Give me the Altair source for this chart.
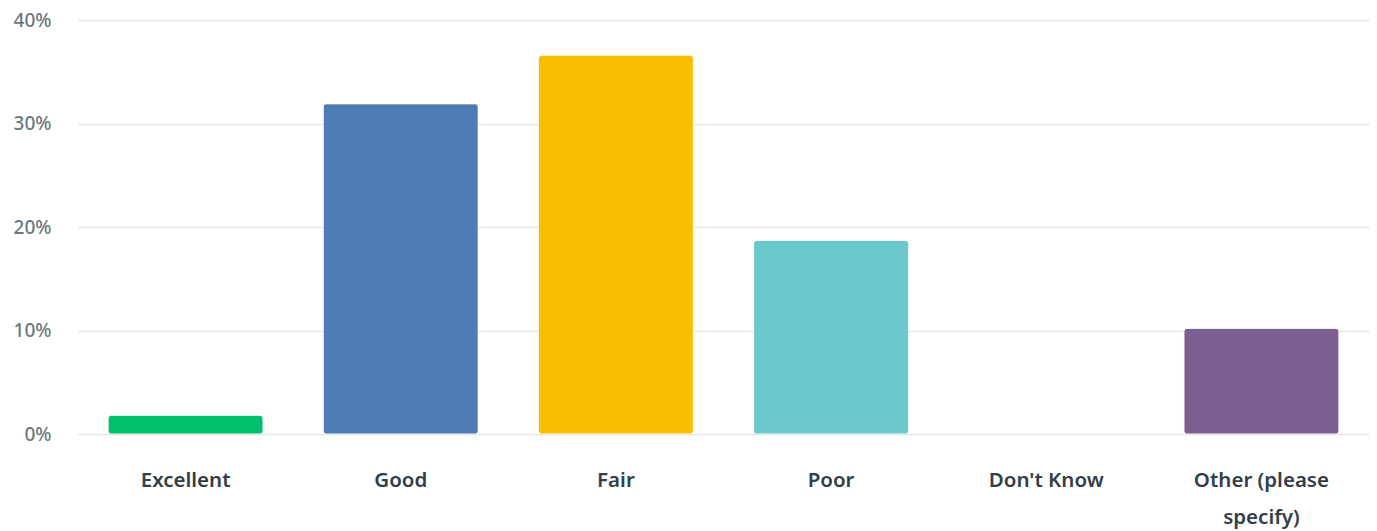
import altair as alt
import pandas as pd

categories = ["Excellent", "Good", "Fair", "Poor", "Don't Know", "Other (please specify)"]
values_pct = [1.8, 31.9, 36.6, 18.7, 0.0, 10.2]
colors = ["#00BF6F", "#507CB6", "#F9BE00", "#6BC8CD", "#A0A0A0", "#7D5E90"]
y_ticks = [0, 0.1, 0.2, 0.3, 0.4]

df = pd.DataFrame({
    "answer": categories,
    "share": [v / 100 for v in values_pct],
})

font = "Noto Sans"

chart = alt.Chart(df).mark_bar(
    cornerRadius=4, stroke="white"
).encode(
    x=alt.X(
        "answer:N",
        sort=categories,
        scale=alt.Scale(paddingInner=0.28, paddingOuter=0.14),
        axis=alt.Axis(
            title=None, labelAngle=0, domain=False, ticks=False,
            labelFont=font, labelFontSize=20.5, labelFontWeight=600,
            labelColor="#333E48", labelPadding=36, labelBaseline="top",
            labelLineHeight=37, labelLimit=300,
            labelExpr="datum.label == 'Other (please specify)' ? ['Other (please', 'specify)'] : datum.label",
        ),
    ),
    y=alt.Y(
        "share:Q",
        scale=alt.Scale(domain=[0, 0.4], nice=False),
        axis=alt.Axis(
            title=None, values=y_ticks, format=".0%", domain=False, ticks=False,
            labelFont=font, labelFontSize=19, labelColor="#6B787F", labelFontWeight=500,
            labelPadding=27, gridColor="#E5E5E5", gridWidth=1.5,
        ),
    ),
    strokeWidth=alt.condition("datum.share > 0", alt.value(1), alt.value(0)),
    color=alt.Color("answer:N", sort=categories,
                    scale=alt.Scale(domain=categories, range=colors), legend=None),
).properties(
    width=1291,
    height=414,
    autosize=alt.AutoSizeParams(type="none"),
    padding={"left": 70, "top": 12, "right": 0, "bottom": 97},
).configure_view(stroke=None)

chart.save("out.html", embed_options={"renderer": "svg", "actions": False})
